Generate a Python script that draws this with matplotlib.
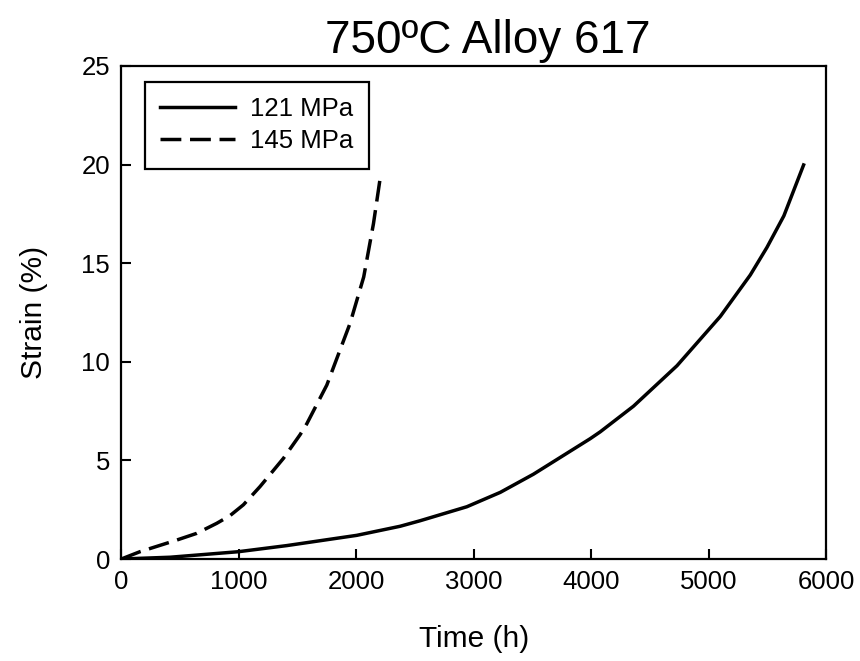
import matplotlib.pyplot as plt

plt.rcParams['font.family'] = ['Liberation Sans', 'DejaVu Sans']

# 121 MPa creep curve (time in h, strain in %)
time_121 = [0, 416, 997, 1409, 2005, 2374, 2544, 2942, 3227, 3509, 3992, 4078,
            4361, 4731, 5100, 5355, 5497, 5641, 5809]
strain_121 = [0, 0.09, 0.37, 0.68, 1.2, 1.66, 1.94, 2.65, 3.38, 4.3, 6.1, 6.45,
              7.75, 9.8, 12.3, 14.4, 15.8, 17.4, 19.98]

# 145 MPa creep curve
time_145 = [0, 159, 472, 642, 813, 926, 1040, 1181, 1380, 1522, 1579, 1750,
            1948, 2064, 2147, 2204]
strain_145 = [0, 0.37, 0.96, 1.30, 1.81, 2.2, 2.75, 3.67, 5.1, 6.3, 6.85, 8.82,
              11.95, 14.3, 17.0, 19.3]

fig = plt.figure(figsize=(8.6, 6.61), dpi=100)
ax = fig.add_axes([0.141, 0.1543, 0.8195, 0.7459])

ax.plot(time_121, strain_121, color='black', linewidth=2.5, linestyle='-',
        solid_joinstyle='round', label='121 MPa')
ax.plot(time_145, strain_145, color='black', linewidth=2.5, linestyle=(0, (6, 2.5)),
        label='145 MPa')

ax.set_xlim(0, 6000)
ax.set_ylim(0, 25)
ax.set_xticks(range(0, 6001, 1000))
ax.set_yticks(range(0, 26, 5))
ax.tick_params(direction='in', length=7, width=1.5, labelsize=18.5, pad=8)
for s in ax.spines.values():
    s.set_linewidth(1.6)

ax.set_xlabel('Time (h)', fontsize=21.5, labelpad=22)
ax.set_ylabel('Strain (%)', fontsize=21.5, labelpad=24)
ax.set_title('750ºC Alloy 617', fontsize=33, x=0.52, pad=9)

leg = ax.legend(loc='upper left', bbox_to_anchor=(0.0336, 0.9675), borderaxespad=0,
                fontsize=18.5, frameon=True, fancybox=False, framealpha=1,
                handlelength=2.9, handletextpad=0.6, borderpad=0.6, labelspacing=0.3)
leg.get_frame().set_edgecolor('black')
leg.get_frame().set_linewidth(1.6)

fig.savefig('out.png', dpi=100)
